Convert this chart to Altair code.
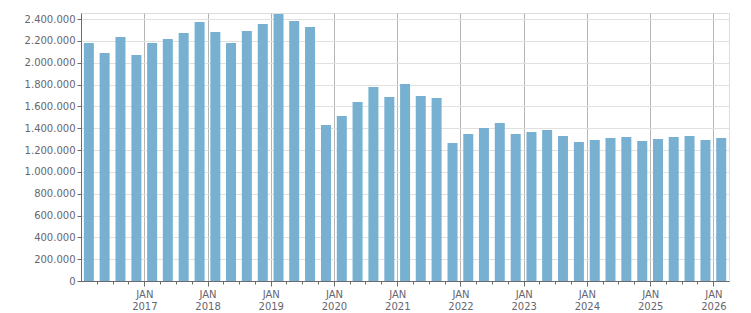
import altair as alt
import pandas as pd
from datetime import datetime, timezone

quarters = [
    "2016-Q1", "2016-Q2", "2016-Q3", "2016-Q4",
    "2017-Q1", "2017-Q2", "2017-Q3", "2017-Q4",
    "2018-Q1", "2018-Q2", "2018-Q3", "2018-Q4",
    "2019-Q1", "2019-Q2", "2019-Q3", "2019-Q4",
    "2020-Q1", "2020-Q2", "2020-Q3", "2020-Q4",
    "2021-Q1", "2021-Q2", "2021-Q3", "2021-Q4",
    "2022-Q1", "2022-Q2", "2022-Q3", "2022-Q4",
    "2023-Q1", "2023-Q2", "2023-Q3", "2023-Q4",
    "2024-Q1", "2024-Q2", "2024-Q3", "2024-Q4",
    "2025-Q1", "2025-Q2", "2025-Q3", "2025-Q4",
    "2026-Q1",
]
values = [
    2180000, 2088000, 2235000, 2070000,
    2180000, 2217000, 2272000, 2372000,
    2281000, 2180000, 2290000, 2354000,
    2446000, 2382000, 2327000, 1429000,
    1511000, 1640000, 1777000, 1685000,
    1805000, 1695000, 1676000, 1264000,
    1347000, 1401000, 1447000, 1347000,
    1365000, 1383000, 1328000, 1273000,
    1292000, 1310000, 1319000, 1282000,
    1301000, 1319000, 1328000, 1292000,
    1310000,
]
y_ticks = [0, 200000, 400000, 600000, 800000, 1000000, 1200000,
           1400000, 1600000, 1800000, 2000000, 2200000, 2400000]


def q_start(y, q):
    y += (q - 1) // 4
    q = (q - 1) % 4 + 1
    return datetime(y, (q - 1) * 3 + 1, 1, tzinfo=timezone.utc)


def ms(d):
    return int(d.timestamp() * 1000)


rows = []
for lab, v in zip(quarters, values):
    y, q = int(lab[:4]), int(lab[-1])
    s, e = q_start(y, q), q_start(y, q + 1)
    rows.append({"quarter": lab, "mid": ms(s + (e - s) / 2), "value": v})
df = pd.DataFrame(rows)

dom_start = ms(q_start(2016, 1))
dom_end = ms(q_start(2026, 2))
tick_vals = [ms(q_start(2016, k)) for k in range(2, 42)]

is_jan = "utcmonth(datum.value) == 0"

chart = alt.Chart(df).mark_bar(color="#77b0d1", size=10).encode(
    x=alt.X(
        "mid:T",
        scale=alt.Scale(type="utc", domain=[dom_start, dom_end], padding=0, nice=False),
        axis=alt.Axis(
            values=tick_vals,
            title=None,
            labelExpr=is_jan + " ? ['JAN', utcFormat(datum.value, '%Y')] : ''",
            tickSize={"condition": {"test": is_jan, "value": 5}, "value": 3},
            gridOpacity={"condition": {"test": is_jan, "value": 1}, "value": 0},
            gridColor="#b5b5b5",
            domainColor="#6b6b6b",
            tickColor="#6b6b6b",
            labelColor="#666670",
            labelFont="DejaVu Sans",
            labelFontSize=10,
            labelPadding=3,
            labelLineHeight=12,
            labelAngle=0,
            labelOverlap=False,
            labelFlush=False,
            labelBound=False,
        ),
    ),
    y=alt.Y(
        "value:Q",
        scale=alt.Scale(domain=[0, 2455000], nice=False),
        axis=alt.Axis(
            values=y_ticks,
            format=",d",
            title=None,
            gridColor="#e0e0e0",
            domainColor="#6b6b6b",
            tickColor="#6b6b6b",
            tickSize=4,
            labelColor="#666670",
            labelFont="DejaVu Sans",
            labelFontSize=10,
            labelPadding=2,
            labelOverlap=False,
        ),
    ),
).properties(
    width=648,
    height=268,
    autosize=alt.AutoSizeParams(type="none"),
    padding={"left": 81, "top": 13, "right": 22, "bottom": 32},
).configure(
    locale={"number": {"decimal": ",", "thousands": ".", "grouping": [3],
                       "currency": ["", " €"]}},
).configure_view(
    stroke="#dddddd",
)

chart.save("out.html", embed_options={"renderer": "svg", "actions": False})
